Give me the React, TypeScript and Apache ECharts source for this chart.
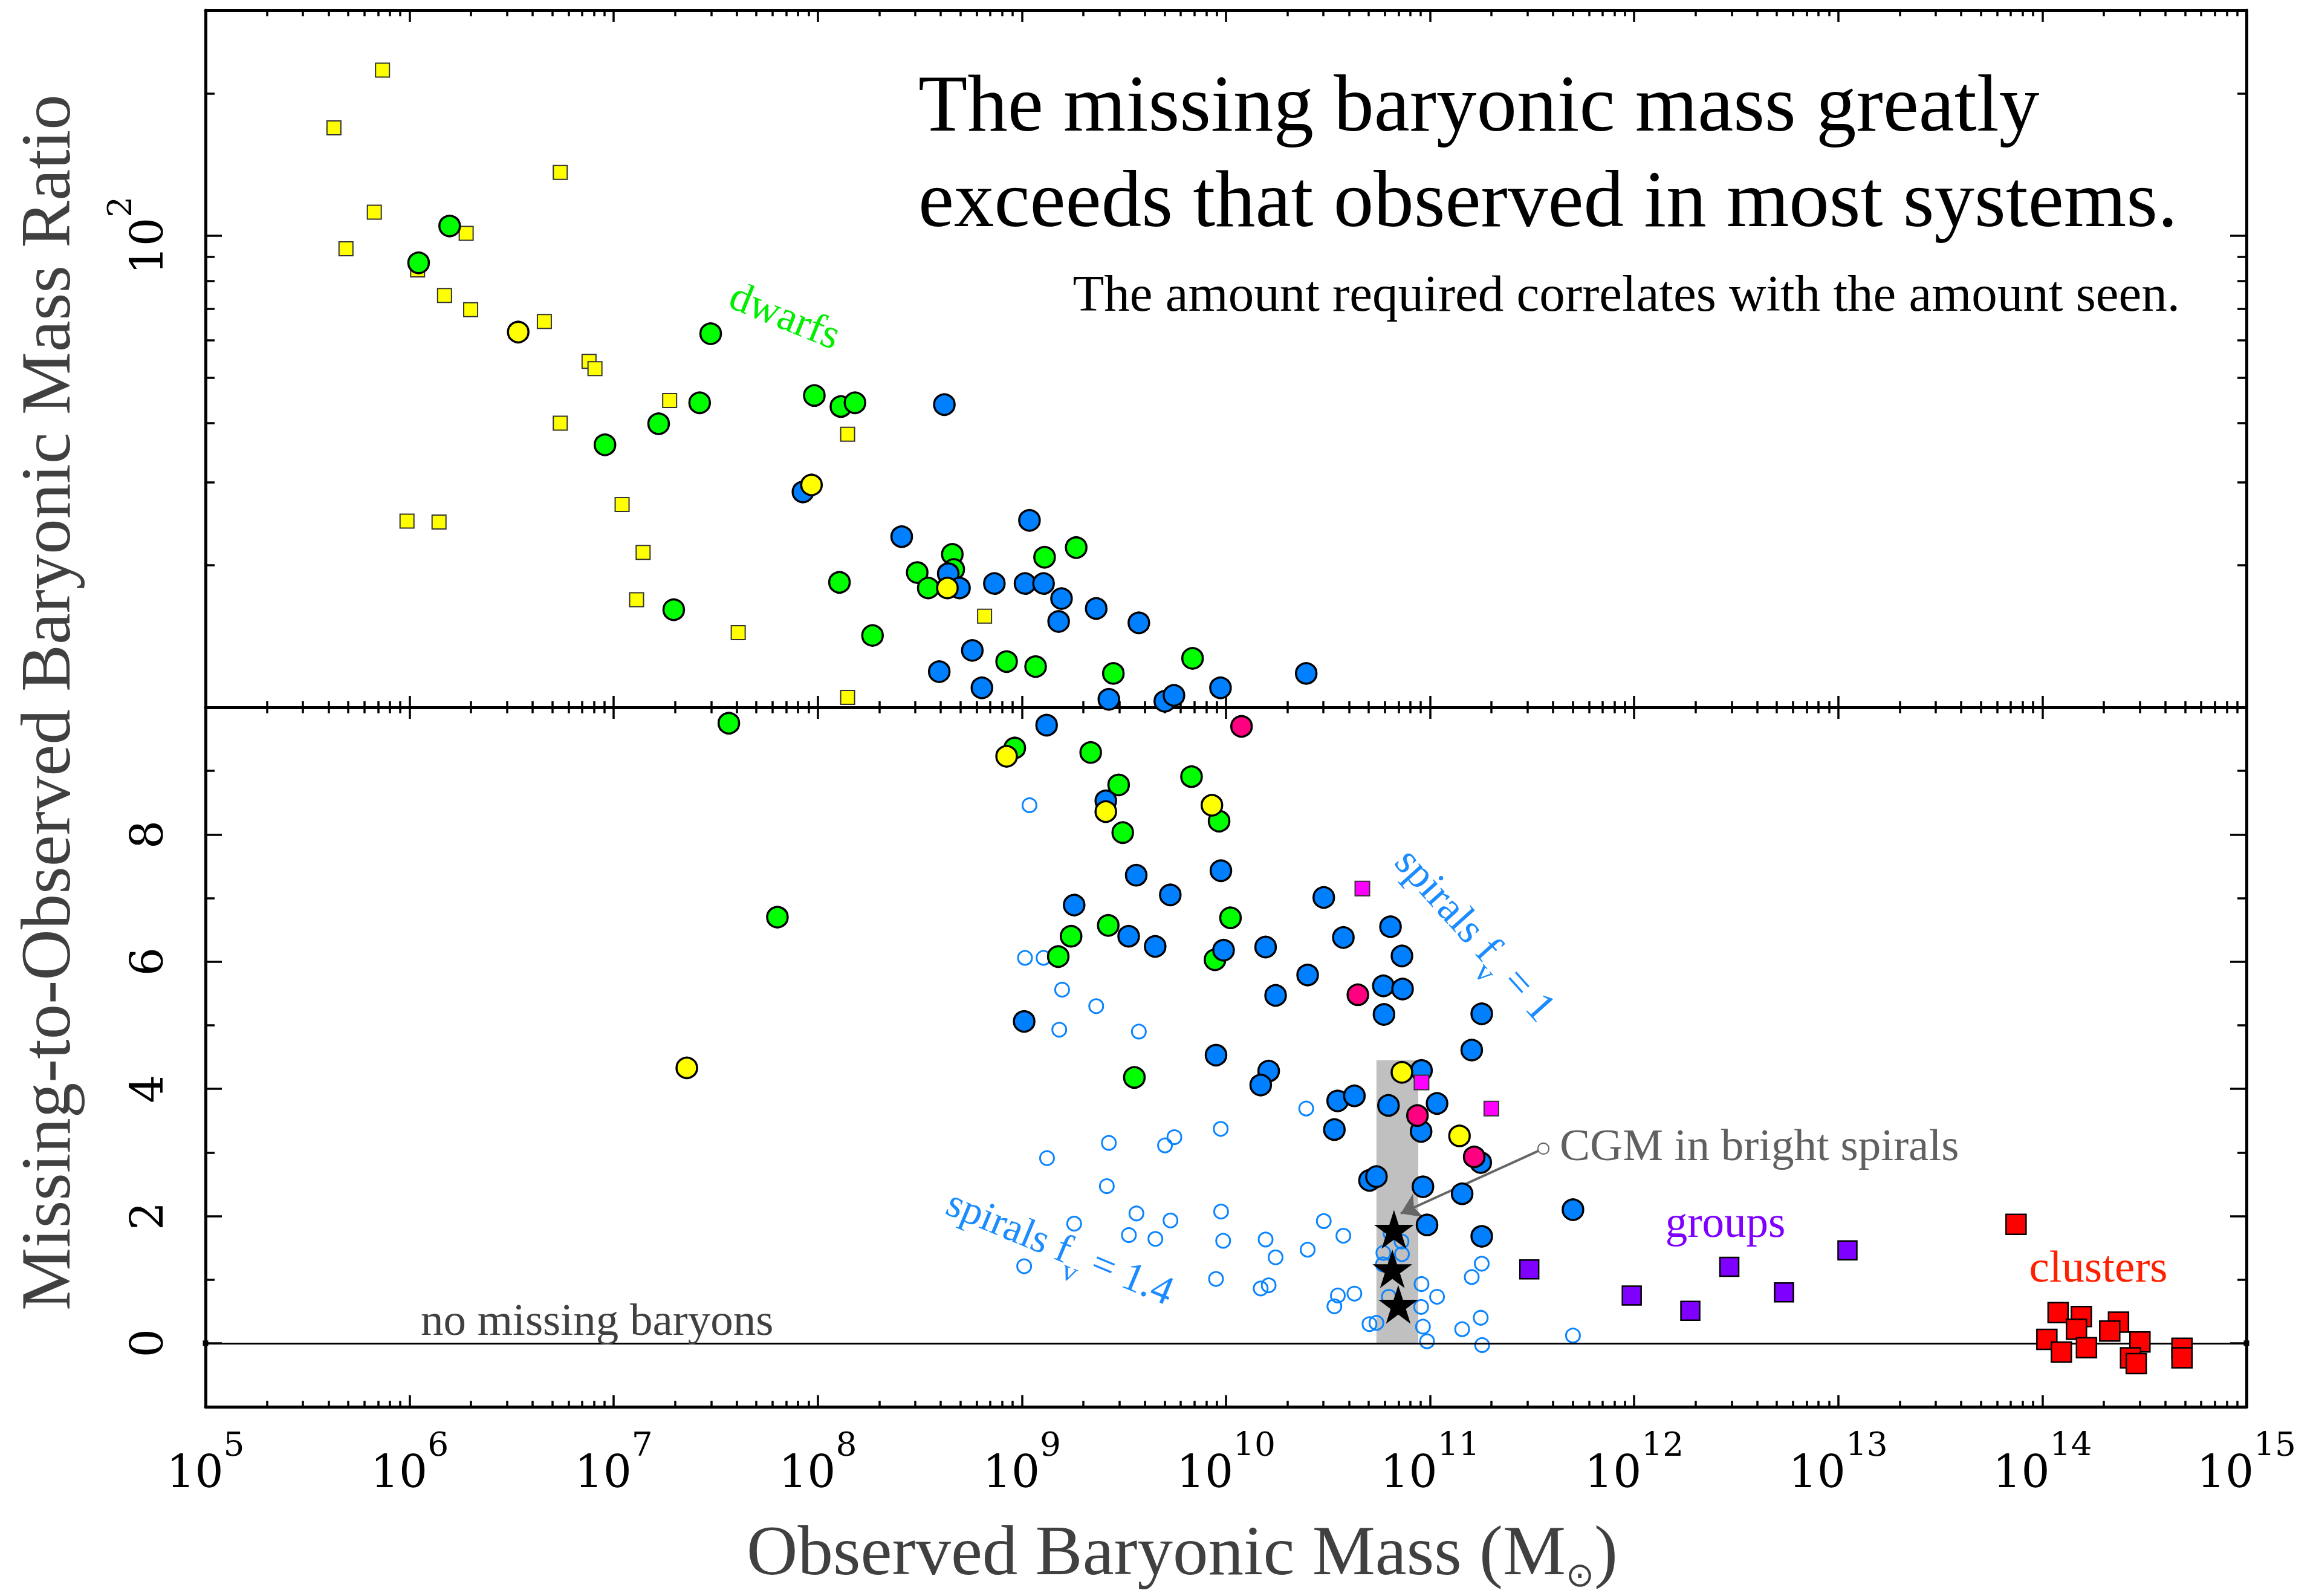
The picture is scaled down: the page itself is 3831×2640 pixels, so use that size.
import React, { useEffect, useRef } from "react";
import * as echarts from "echarts";

// ---------------- DATA ----------------
// every point: [log10(observed baryonic mass / Msun), missing-to-observed baryonic mass ratio]
// ratios >= 10 go to the upper (logarithmic) panel, ratios < 10 to the lower (linear) panel.
const yellowSquares = [
  [5.867, 224], [5.629, 169], [6.738, 136], [5.827, 112], [5.688, 93.7], [6.277, 101],
  [6.039, 84.5], [6.171, 74.6], [6.299, 69.6], [6.66, 65.7], [6.879, 54.1], [6.908, 52.2],
  [7.274, 44.7], [6.738, 40.0], [5.987, 24.8], [6.144, 24.7], [7.041, 26.9], [7.144, 21.3],
  [7.112, 16.9], [7.61, 14.4], [8.146, 37.9], [8.146, 10.5], [8.817, 15.6],
];
const greenCircles = [
  [6.196, 104.7], [6.044, 87.5], [7.475, 61.9], [7.421, 44.2], [7.22, 39.9], [6.957, 36.0],
  [7.983, 45.8], [8.113, 43.4], [8.182, 44.2], [7.294, 16.1], [8.106, 18.4], [8.268, 14.2],
  [8.487, 19.3], [8.541, 17.9], [8.659, 21.1], [8.666, 19.6], [9.111, 20.8], [9.266, 21.8],
  [8.925, 12.5], [9.067, 12.2], [9.448, 11.8], [9.836, 12.7],
  [7.564, 9.75], [8.965, 9.36], [9.337, 9.29], [9.474, 8.78], [9.494, 8.03], [9.831, 8.91],
  [9.966, 8.21], [7.802, 6.7], [9.241, 6.4], [9.423, 6.57], [9.178, 6.08], [10.022, 6.69],
  [9.946, 6.03], [9.551, 4.18],
];
const blueCircles = [
  [8.62, 43.8], [7.927, 28.6], [8.411, 23.0], [9.037, 24.9], [8.639, 19.2], [8.694, 17.9],
  [8.865, 18.3], [9.015, 18.3], [9.106, 18.3], [9.194, 17.0], [9.18, 15.2], [9.364, 16.2],
  [9.573, 15.1], [8.757, 13.2], [8.595, 11.9], [8.804, 11.0], [9.426, 10.4], [9.7, 10.3],
  [9.745, 10.6], [9.973, 11.0], [10.393, 11.8],
  [9.121, 9.72], [9.411, 8.53], [9.56, 7.36], [9.727, 7.05], [9.975, 7.43], [9.256, 6.89],
  [9.523, 6.4], [9.653, 6.24], [9.988, 6.18], [10.194, 6.23], [10.479, 7.01], [10.575, 6.38],
  [10.806, 6.55], [10.862, 6.09], [10.4, 5.79], [10.243, 5.47], [10.771, 5.62], [10.865, 5.57],
  [10.774, 5.17], [11.253, 5.18], [9.011, 5.06], [9.951, 4.53], [11.204, 4.61], [10.209, 4.28],
  [10.17, 4.06], [10.958, 4.29], [10.547, 3.81], [10.629, 3.89], [10.796, 3.74], [11.034, 3.77],
  [10.956, 3.33], [10.531, 3.36], [11.248, 2.84], [10.703, 2.56], [10.737, 2.62], [10.965, 2.46],
  [11.157, 2.35], [11.7, 2.1], [10.985, 1.86], [11.253, 1.68],
];
const yellowCircles = [
  [6.532, 62.4], [7.969, 29.6], [8.635, 17.9], [8.925, 9.23], [9.411, 8.36], [9.931, 8.46],
  [7.358, 4.33], [10.862, 4.26], [11.144, 3.26],
];
const pinkCircles = [[10.076, 9.7], [10.646, 5.48], [10.938, 3.58], [11.216, 2.93]];
const magentaSquares = [[10.668, 7.15], [10.958, 4.1], [11.3, 3.69]];
const openCircles = [
  [9.037, 8.46], [9.015, 6.06], [9.106, 6.06], [9.197, 5.56], [9.364, 5.3], [9.183, 4.93],
  [9.573, 4.9], [9.123, 2.91], [9.426, 3.15], [9.701, 3.11], [9.747, 3.24], [9.974, 3.37],
  [10.393, 3.69], [9.416, 2.47], [9.256, 1.88], [9.561, 2.04], [9.728, 1.93], [9.976, 2.07],
  [9.524, 1.7], [9.654, 1.64], [9.986, 1.61], [10.194, 1.63], [10.243, 1.35], [10.4, 1.47],
  [10.479, 1.92], [10.575, 1.69], [9.011, 1.21], [9.951, 1.01], [10.17, 0.86], [10.209, 0.91],
  [10.548, 0.75], [10.629, 0.78], [10.531, 0.58], [10.703, 0.3], [10.737, 0.32], [10.771, 1.42],
  [10.862, 1.4], [10.769, 1.24], [10.798, 0.73], [10.958, 0.93], [11.034, 0.73], [10.956, 0.57],
  [10.965, 0.26], [10.985, 0.03], [11.204, 1.04], [11.253, 1.25], [11.157, 0.22], [11.248, 0.4],
  [11.255, -0.03], [11.7, 0.12], [10.806, 1.73], [10.86, 1.6],
];
const groupSquares = [[11.486, 1.16], [11.988, 0.75], [12.275, 0.51], [12.466, 1.2], [12.734, 0.8], [13.045, 1.46]];
const clusterSquares = [
  [13.871, 1.87], [14.077, 0.48], [14.191, 0.42], [14.167, 0.22], [14.022, 0.06], [14.093, -0.14],
  [14.216, -0.07], [14.373, 0.33], [14.33, 0.19], [14.478, 0.02], [14.432, -0.23], [14.46, -0.32],
  [14.684, -0.08], [14.684, -0.23],
];
const cgmStars = [[10.823, 1.79], [10.815, 1.17], [10.844, 0.61]];
const cgmBandLogMass = [10.737, 10.942];
const cgmBandRatio = [0, 4.45];
const cgmArrowFrom = [11.555, 3.06];
const cgmArrowTo = [10.856, 2.04];

// axes
const xRange = [5, 15];
const xMinorMultipliers = [2, 3, 4, 5, 6, 7, 8, 9];
const topRange = [10, 300];
const topMajorTicks = [10, 100];
const topMinorTicks = [20, 30, 40, 50, 60, 70, 80, 90, 200];
const topLabelTicks = [100];
const bottomRange = [-1, 10];
const bottomMajorTicks = [0, 2, 4, 6, 8];
const bottomMinorTicks = [1, 3, 5, 7, 9];
const SPLIT = 10;

// ---------------- STYLE ----------------
const SERIF = "Liberation Serif, Times New Roman, serif";
const TICKFONT = "DejaVu Serif, serif";
const FRAME = { color: "#000", width: 5 };
const TICK = { color: "#000", width: 3.5 };
const STAR = "path://M50,0 L61.2,34.5 L97.6,34.5 L68.2,55.9 L79.4,90.5 L50,69.1 L20.6,90.5 L31.8,55.9 L2.4,34.5 L38.8,34.5 Z";

const labelRich = {
  b: { fontFamily: TICKFONT, fontSize: 74, lineHeight: 110, verticalAlign: "bottom", color: "#000" },
  s: { fontFamily: TICKFONT, fontSize: 55, lineHeight: 44, verticalAlign: "top", color: "#000" },
};

function makeMinorX() {
  const out = [];
  for (let d = xRange[0]; d < xRange[1]; d++) {
    for (const m of xMinorMultipliers) out.push(d + Math.log10(m));
  }
  return out;
}

function toTop(pts) {
  return pts.filter((p) => p[1] >= SPLIT).map((p) => [p[0], Math.log10(p[1])]);
}
function toBottom(pts) {
  return pts.filter((p) => p[1] < SPLIT);
}

function xAxisDef(gridIndex, position, major, labels, minorTicks) {
  return {
    type: "value", gridIndex, position, min: xRange[0], max: xRange[1], interval: 1,
    axisLine: { show: major, onZero: false, lineStyle: FRAME },
    axisTick: major
      ? { show: true, inside: true, length: 19, lineStyle: TICK }
      : { show: true, inside: true, length: 10, lineStyle: TICK, customValues: minorTicks },
    axisLabel: labels
      ? {
          show: true, margin: 34, interval: 0, showMinLabel: true, showMaxLabel: true, hideOverlap: false,
          formatter: (v) => "{b|10}{s|" + Math.round(v) + "}", rich: labelRich,
        }
      : { show: false },
    splitLine: { show: false },
  };
}

function yAxisDef(gridIndex, position, min, max, ticks, len, labelVals, fmt) {
  return {
    type: "value", gridIndex, position, min, max, interval: 1,
    axisLine: { show: len > 20, onZero: false, lineStyle: FRAME },
    axisTick: { show: true, inside: true, length: len, lineStyle: TICK, customValues: ticks },
    axisLabel: labelVals
      ? { show: true, rotate: 90, margin: 60, customValues: labelVals, formatter: fmt, rich: labelRich }
      : { show: false },
    splitLine: { show: false },
  };
}

function scatterDef(data, grid, symbol, size, color, border, bw, z) {
  return {
    type: "scatter",
    xAxisIndex: grid === 0 ? 0 : 2,
    yAxisIndex: grid === 0 ? 0 : 4,
    data, symbol, symbolSize: size, z, clip: false, silent: true,
    itemStyle: { color, borderColor: border, borderWidth: bw, opacity: 1 },
  };
}

function txt(text, x, y, size, fill, opts) {
  const o = opts || {};
  const align = o.align || "center";
  const valign = o.valign || "middle";
  return {
    type: "text", x, y, z: 100, rotation: o.rotation || 0, silent: true,
    style: {
      text, fill, fontSize: size, fontFamily: o.family || SERIF,
      align, textAlign: align, verticalAlign: valign, textVerticalAlign: valign,
      rich: o.rich,
    },
  };
}

function subRich(size, fill) {
  return {
    a: { fontSize: size, fontFamily: SERIF, fill, color: fill, lineHeight: 90, verticalAlign: "top" },
    sub: { fontSize: size * 0.72, fontFamily: SERIF, fill, color: fill, lineHeight: 50, verticalAlign: "bottom" },
  };
}

function buildOption() {
  const lg = (v) => Math.log10(v);
  const xMinor = makeMinorX();
  const tMin = lg(topRange[0]);
  const tMax = lg(topRange[1]);
  return {
    animation: false,
    backgroundColor: "#fff",
    grid: [
      { left: 340, right: 115, top: 17, height: 1153 },
      { left: 340, right: 115, top: 1170, height: 1157 },
    ],
    xAxis: [
      xAxisDef(0, "bottom", true, false, null),
      xAxisDef(0, "top", true, false, null),
      xAxisDef(1, "bottom", true, true, null),
      xAxisDef(1, "top", true, false, null),
      xAxisDef(0, "bottom", false, false, xMinor),
      xAxisDef(0, "top", false, false, xMinor),
      xAxisDef(1, "bottom", false, false, xMinor),
      xAxisDef(1, "top", false, false, xMinor),
    ],
    yAxis: [
      yAxisDef(0, "left", tMin, tMax, topMajorTicks.map(lg), 27, topLabelTicks.map(lg), (v) => "{b|10}{s|" + Math.round(v) + "}"),
      yAxisDef(0, "right", tMin, tMax, topMajorTicks.map(lg), 27, null, null),
      yAxisDef(0, "left", tMin, tMax, topMinorTicks.map(lg), 15, null, null),
      yAxisDef(0, "right", tMin, tMax, topMinorTicks.map(lg), 15, null, null),
      yAxisDef(1, "left", bottomRange[0], bottomRange[1], bottomMajorTicks, 27, bottomMajorTicks, (v) => "{b|" + v + "}"),
      yAxisDef(1, "right", bottomRange[0], bottomRange[1], bottomMajorTicks, 27, null, null),
      yAxisDef(1, "left", bottomRange[0], bottomRange[1], bottomMinorTicks, 15, null, null),
      yAxisDef(1, "right", bottomRange[0], bottomRange[1], bottomMinorTicks, 15, null, null),
    ],
    series: [
      scatterDef(toTop(yellowSquares), 0, "rect", 23, "#ffff00", "#333", 2, 3),
      scatterDef(toTop(greenCircles), 0, "circle", 34, "#00ff00", "#000", 3.5, 4),
      scatterDef(toTop(blueCircles), 0, "circle", 34, "#0080ff", "#000", 3.5, 5),
      scatterDef(toTop(yellowCircles), 0, "circle", 34, "#ffff00", "#000", 3.5, 6),
      {
        type: "scatter", xAxisIndex: 2, yAxisIndex: 4, data: [], z: 1, silent: true,
        markArea: {
          silent: true, itemStyle: { color: "#c0c0c0" }, label: { show: false },
          data: [[{ coord: [cgmBandLogMass[0], cgmBandRatio[0]] }, { coord: [cgmBandLogMass[1], cgmBandRatio[1]] }]],
        },
        markLine: {
          silent: true, symbol: ["rect", "rect"], symbolSize: 9, label: { show: false },
          lineStyle: { color: "#000", width: 3, type: "solid" },
          data: [{ yAxis: 0 }],
        },
      },
      scatterDef(toBottom(openCircles), 1, "circle", 23, "rgba(0,0,0,0)", "#0a84ff", 3, 2),
      scatterDef(toBottom(greenCircles), 1, "circle", 34, "#00ff00", "#000", 3.5, 4),
      scatterDef(toBottom(blueCircles), 1, "circle", 34, "#0080ff", "#000", 3.5, 5),
      scatterDef(toBottom(yellowCircles), 1, "circle", 34, "#ffff00", "#000", 3.5, 6),
      scatterDef(toBottom(pinkCircles), 1, "circle", 34, "#ff0080", "#000", 3.5, 7),
      scatterDef(toBottom(magentaSquares), 1, "rect", 24, "#ff00ff", "#333", 2, 8),
      scatterDef(toBottom(groupSquares), 1, "rect", 31, "#8000ff", "#000", 2.5, 8),
      scatterDef(toBottom(clusterSquares), 1, "rect", 33, "#ff0000", "#000", 2.5, 8),
      scatterDef(toBottom(cgmStars), 1, STAR, [66, 64], "#000", "#000", 0, 9),
      {
        type: "scatter", xAxisIndex: 2, yAxisIndex: 4, data: [], z: 10, silent: true,
        markLine: {
          silent: true, label: { show: false },
          lineStyle: { color: "#666", width: 4, type: "solid" },
          data: [[
            { coord: cgmArrowFrom, symbol: "emptyCircle", symbolSize: 18 },
            { coord: cgmArrowTo, symbol: "arrow", symbolSize: 32 },
          ]],
        },
      },
    ],
    graphic: [
      txt("The missing baryonic mass greatly", 1519, 171, 133, "#000", { align: "left" }),
      txt("exceeds that observed in most systems.", 1519, 329, 133, "#000", { align: "left" }),
      txt("The amount required correlates with the amount seen.", 3606, 485, 85, "#000", { align: "right" }),
      txt("dwarfs", 1299, 521, 70, "#00ee00", { rotation: (-22 * Math.PI) / 180 }),
      txt("{a|spirals f}{sub|v}{a| = 1}", 2434, 1552, 70, "#1a8cff", { rotation: (-48 * Math.PI) / 180, rich: subRich(70, "#1a8cff") }),
      txt("{a|spirals f}{sub|v}{a| = 1.4}", 1750, 2072, 68, "#1a8cff", { rotation: (-22.5 * Math.PI) / 180, rich: subRich(68, "#1a8cff") }),
      txt("CGM in bright spirals", 2580, 1893, 75, "#606060", { align: "left" }),
      txt("groups", 2854, 2021, 73, "#8000ff", null),
      txt("clusters", 3471, 2094, 75, "#ff2000", null),
      txt("no missing baryons", 696, 2182, 75, "#404040", { align: "left" }),
      txt("Missing-to-Observed Baryonic Mass Ratio", 75, 1162, 117, "#404040", { rotation: Math.PI / 2 }),
      txt("{a|Observed Baryonic Mass (M}{o|\u2299}{a|)}", 1235, 2506, 117, "#404040", {
        align: "left", valign: "top",
        rich: {
          a: { fontSize: 117, fontFamily: SERIF, fill: "#404040", color: "#404040", lineHeight: 126, verticalAlign: "top" },
          o: { fontSize: 56, fontFamily: "DejaVu Sans, sans-serif", fill: "#404040", color: "#404040", lineHeight: 64, verticalAlign: "bottom" },
        },
      }),
    ],
  };
}

export default function App() {
  const ref = useRef(null);
  useEffect(() => {
    document.body.style.margin = "0";
    if (!ref.current) return;
    const chart = echarts.init(ref.current, null, { renderer: "svg", width: 3831, height: 2640 });
    chart.setOption(buildOption());
    return () => chart.dispose();
  }, []);
  return <div ref={ref} style={{ width: 3831, height: 2640, background: "#fff" }} />;
}
